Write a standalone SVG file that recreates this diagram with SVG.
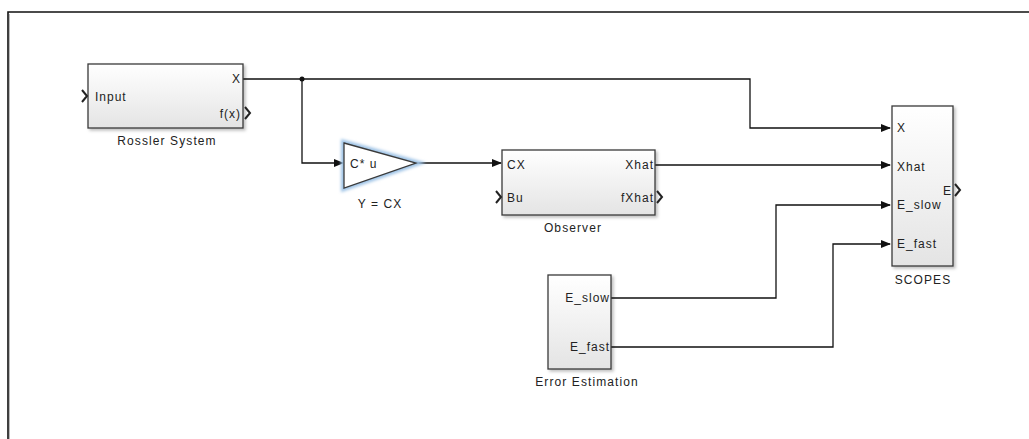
<svg xmlns="http://www.w3.org/2000/svg" width="1029" height="439" viewBox="0 0 1029 439">
<style>
.blk{fill:url(#g);stroke:#3a3a3a;stroke-width:1.3;filter:url(#sh)}
.t{font-family:"Liberation Sans",Arial,sans-serif;font-size:12px;letter-spacing:1px;fill:#222}
.lbl{font-family:"Liberation Sans",Arial,sans-serif;font-size:12px;letter-spacing:1.1px;fill:#222;text-anchor:middle}
.r{text-anchor:end}
.ln{fill:none;stroke:#111;stroke-width:1.3}
.chev{fill:none;stroke:#222;stroke-width:2}
</style>
<defs>
<linearGradient id="g" x1="0" y1="0" x2="0" y2="1">
<stop offset="0" stop-color="#ffffff"/>
<stop offset="1" stop-color="#e4e4e4"/>
</linearGradient>
<filter id="sh" x="-10%" y="-10%" width="130%" height="130%">
<feDropShadow dx="2" dy="2" stdDeviation="1.5" flood-color="#000" flood-opacity="0.25"/>
</filter>
<filter id="glow" x="-20%" y="-20%" width="140%" height="140%">
<feGaussianBlur stdDeviation="1.5"/>
</filter>
<marker id="ar" markerWidth="10" markerHeight="8" refX="9" refY="4" orient="auto" markerUnits="userSpaceOnUse">
<path d="M0,0 L10,4 L0,8 Z" fill="#111"/>
</marker>
</defs>
<rect width="1029" height="439" fill="#fff"/>
<path d="M8,439 V12 H1029" fill="none" stroke="#111" stroke-width="1.6"/>
<line x1="9.5" y1="14" x2="9.5" y2="439" stroke="#bbb" stroke-width="1"/>

<g id="connectors">
<path class="ln" d="M243,79 H750 V128 H890" marker-end="url(#ar)"/>
<path class="ln" d="M302,79 V163 H343" marker-end="url(#ar)"/>
<circle cx="302" cy="79" r="2.5" fill="#111"/>
<path class="ln" d="M418,163 H501" marker-end="url(#ar)"/>
<path class="ln" d="M655,165 H890" marker-end="url(#ar)"/>
<path class="ln" d="M611,298 H776 V205 H890" marker-end="url(#ar)"/>
<path class="ln" d="M611,347 H833 V244 H890" marker-end="url(#ar)"/>
</g>

<g id="rossler">
<rect class="blk" x="88" y="64" width="155" height="64"/>
<path class="chev" d="M82,90 L87,96 L82,102"/>
<path class="chev" d="M245,107 L250,113 L245,119"/>
<text class="t" x="95" y="101">Input</text>
<text class="t r" x="241" y="83">X</text>
<text class="t r" x="241" y="118">f(x)</text>
<text class="lbl" x="167" y="145">Rossler System</text>
</g>

<g id="gain">
<path d="M344,143 L416,163 L344,188 Z" fill="none" stroke="#9ec3e6" stroke-width="6" filter="url(#glow)"/>
<path d="M344,143 L416,163 L344,188 Z" fill="#fff" stroke="#3a3a3a" stroke-width="1.3"/>
<text class="t" x="350" y="168">C* u</text>
<text class="lbl" x="380" y="208">Y = CX</text>
</g>

<g id="observer">
<rect class="blk" x="502" y="150" width="153" height="65"/>
<path class="chev" d="M496,191 L501,197 L496,203"/>
<path class="chev" d="M657,191 L662,197 L657,203"/>
<text class="t" x="507" y="169">CX</text>
<text class="t" x="507" y="202">Bu</text>
<text class="t r" x="654" y="169">Xhat</text>
<text class="t r" x="654" y="202">fXhat</text>
<text class="lbl" x="573" y="232">Observer</text>
</g>

<g id="error">
<rect class="blk" x="548" y="275" width="63" height="94"/>
<text class="t r" x="610" y="302">E_slow</text>
<text class="t r" x="610" y="351">E_fast</text>
<text class="lbl" x="587" y="386">Error Estimation</text>
</g>

<g id="scopes">
<rect class="blk" x="892" y="106" width="61" height="160"/>
<path class="chev" d="M955,184 L960,190 L955,196"/>
<text class="t" x="897" y="132">X</text>
<text class="t" x="897" y="171">Xhat</text>
<text class="t" x="897" y="209">E_slow</text>
<text class="t" x="897" y="248">E_fast</text>
<text class="t r" x="952" y="195">E</text>
<text class="lbl" x="923" y="284">SCOPES</text>
</g>
</svg>
